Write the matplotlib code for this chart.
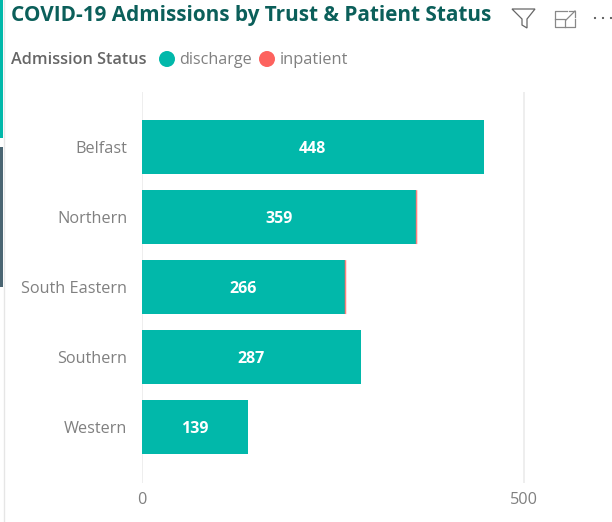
# Admissions by trust, stacked horizontal bars

import matplotlib
matplotlib.use("Agg")
import matplotlib.pyplot as plt
from matplotlib.patches import Rectangle, Polygon, Circle

W, H = 612, 522

# Data
trusts = ["Belfast", "Northern", "South Eastern", "Southern", "Western"]
discharge = [448, 359, 266, 287, 139]
inpatient = [0, 2, 2, 0, 0]
ticks = [0, 500]

teal = "#01B8AA"
red = "#FD625E"
grey = "#808080"

plt.rcParams["font.family"] = ["Open Sans", "DejaVu Sans"]

fig = plt.figure(figsize=(W / 100, H / 100), dpi=100)

# Axes placed in pixels: zero line at x=141.5, rows 69.8px apart
left, top, bottom = 141.5, 92, 483
ax = fig.add_axes([left / W, 1 - bottom / H, (W - left) / W, (bottom - top) / H])
ax.set_xlim(0, (W - left) / 0.764)
ax.set_ylim(4.8, -0.788)

ax.barh(trusts, discharge, height=0.77, color=teal, label="discharge")
ax.barh(trusts, inpatient, height=0.77, left=discharge, color=red, alpha=0.8, snap=False,
        label="inpatient")

for i in range(len(trusts)):
    ax.text(discharge[i] / 2, i, str(discharge[i]), color="white", fontsize=11.5,
            fontweight="bold", ha="center", va="center_baseline")

ax.set_xticks(ticks)
ax.xaxis.grid(True, color="#EBEBEB", linewidth=1.2)
ax.set_axisbelow(True)
for side in ax.spines:
    ax.spines[side].set_visible(False)
ax.tick_params(axis="both", length=0, labelcolor=grey, labelsize=11.7)
ax.tick_params(axis="y", pad=10.2)
ax.tick_params(axis="x", pad=6.5)

# Title and legend
def px_text(x, y, s, **kw):
    fig.text(x / W, 1 - y / H, s, va="center", **kw)

px_text(11, 16, "COVID-19 Admissions by Trust & Patient Status", color="#0B5F5A",
        fontsize=14.95, fontweight="bold")
px_text(11, 60, "Admission Status", color="#666666", fontsize=11.7, fontweight="semibold")
px_text(179, 60, "discharge", color=grey, fontsize=11.6)
px_text(280, 60, "inpatient", color=grey, fontsize=11.8)

# Everything below is drawn in pixel coordinates on an overlay
over = fig.add_axes([0, 0, 1, 1], facecolor="none")
over.set_xlim(0, W)
over.set_ylim(H, 0)
over.axis("off")

over.add_patch(Circle((167, 59), 8, color=teal, lw=0))
over.add_patch(Circle((267, 59), 8, color=red, lw=0))

# Side accents
over.plot([3.5, 3.5], [0, H], color="#E6E6E6", lw=1)
over.add_patch(Rectangle((0, 0), 3, 138, color=teal, lw=0))
over.add_patch(Rectangle((0, 147), 3, 140, color="#4A6572", lw=0))

# Header icons
over.add_patch(Polygon([(512, 9), (535, 9), (527, 19), (527, 28), (522, 25), (522, 19)],
                       fill=False, ec="#666666", lw=0.9))
icon = "#888888"
over.plot([567, 555, 555, 575, 575], [11, 11, 27, 27, 19], color=icon, lw=0.9)
over.plot([555, 565, 565], [19, 19, 27], color=icon, lw=0.9)
over.plot([566, 575], [20, 11], color=icon, lw=0.9)
over.plot([569, 575, 575], [11, 11, 17], color=icon, lw=0.9)
for x in [595, 603, 611]:
    over.add_patch(Circle((x, 18), 1.1, color="#555555", lw=0))

fig.savefig("out.png", dpi=100)
